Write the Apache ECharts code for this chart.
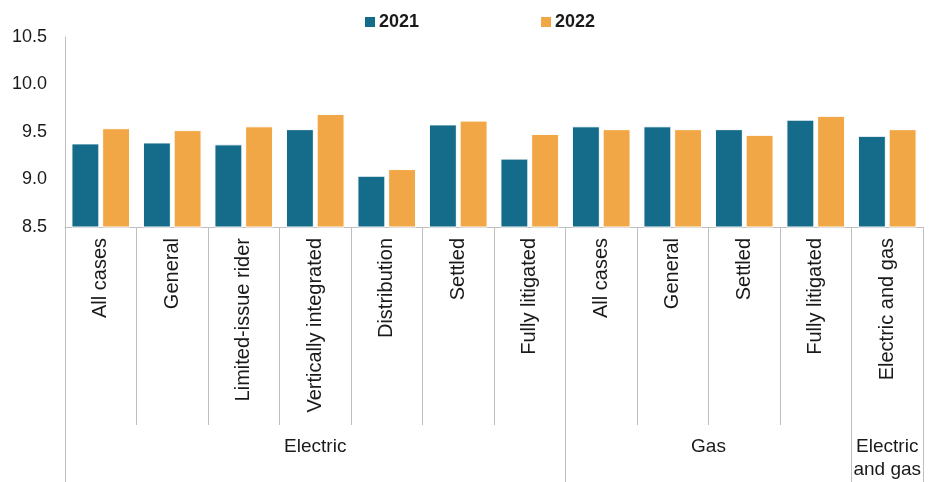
<!DOCTYPE html>
<html>
<head>
<meta charset="utf-8">
<script src="https://cdn.jsdelivr.net/npm/echarts@6/dist/echarts.min.js"></script>
<style>
  html, body { margin: 0; padding: 0; background: #fff; }
  #chartmain { width: 934px; height: 482px; }
</style>
</head>
<body>
<div id="chartmain"></div>
<script>
// categories and groups
var categories = ['All cases', 'General', 'Limited-issue rider', 'Vertically integrated', 'Distribution', 'Settled', 'Fully litigated',
                  'All cases', 'General', 'Settled', 'Fully litigated', 'Electric and gas'];
var groupNames = ['Electric', 'Gas', 'Electric\nand gas'];
var groupStarts = [0, 7, 11];   // first category index of each group
var groupSizes = [7, 4, 1];

// series values
var years = ['2021', '2022'];
var values2021 = [9.38, 9.39, 9.37, 9.53, 9.04, 9.58, 9.22, 9.56, 9.56, 9.53, 9.63, 9.46];
var values2022 = [9.54, 9.52, 9.56, 9.69, 9.11, 9.62, 9.48, 9.53, 9.53, 9.47, 9.67, 9.53];

// y axis
var yMin = 8.5, yMax = 10.5, yStep = 0.5;

var fontFam = 'Liberation Sans, Arial, sans-serif';
var lineGray = '#bfbfbf';
var textCol = '#1a1a1a';

// group label positions on a 0..n value scale
var groupCenters = groupStarts.map(function (s, i) { return s + groupSizes[i] / 2; });

var option = {
    animation: false,
    legend: {
        data: years,
        left: 358,
        top: 8,
        itemWidth: 12,
        itemHeight: 12,
        itemGap: 120,
        icon: 'rect',
        textStyle: { fontSize: 18, color: textCol, fontFamily: fontFam, fontWeight: 'bold', padding: [0, 0, 0, -2] }
    },
    grid: { left: 65, right: 11, top: 37, bottom: 255 },
    xAxis: [
        {
            type: 'category',
            data: categories,
            axisLine: { lineStyle: { color: lineGray, width: 1 } },
            axisTick: { show: true, interval: 0, length: 198, lineStyle: { color: lineGray } },
            axisLabel: {
                interval: 0, rotate: 90, margin: 11,
                fontSize: 20, color: textCol, fontFamily: fontFam
            }
        },
        {
            type: 'category',
            data: categories,
            position: 'bottom',
            axisLine: { show: false },
            axisTick: {
                show: true, length: 255, lineStyle: { color: lineGray },
                interval: function (idx) { return groupStarts.indexOf(idx) >= 0; }
            },
            axisLabel: { show: false }
        },
        {
            type: 'value',
            position: 'bottom',
            min: 0, max: categories.length, interval: 0.5,
            axisLine: { show: false },
            axisTick: { show: false },
            splitLine: { show: false },
            axisLabel: {
                margin: 208,
                fontSize: 19, color: textCol, fontFamily: fontFam, lineHeight: 23,
                verticalAlign: 'top',
                showMinLabel: true, showMaxLabel: true,
                formatter: function (v) {
                    var i = groupCenters.indexOf(v);
                    return i >= 0 ? groupNames[i] : '';
                }
            }
        }
    ],
    yAxis: {
        type: 'value',
        min: yMin, max: yMax, interval: yStep,
        axisLine: { show: true, lineStyle: { color: lineGray } },
        axisTick: { show: false },
        splitLine: { show: false },
        axisLabel: {
            margin: 18, fontSize: 18, color: textCol, fontFamily: fontFam,
            formatter: function (v) { return v.toFixed(1); }
        }
    },
    series: [
        {
            name: years[0], type: 'bar', data: values2021,
            barGap: '10%', barCategoryGap: '18%',
            itemStyle: { color: '#156b8a', borderColor: '#fff', borderWidth: 1 }
        },
        {
            name: years[1], type: 'bar', data: values2022,
            itemStyle: { color: '#f2a746', borderColor: '#fff', borderWidth: 1 }
        }
    ]
};

var myChart = echarts.init(document.getElementById('chartmain'));
myChart.setOption(option);
</script>
</body>
</html>
